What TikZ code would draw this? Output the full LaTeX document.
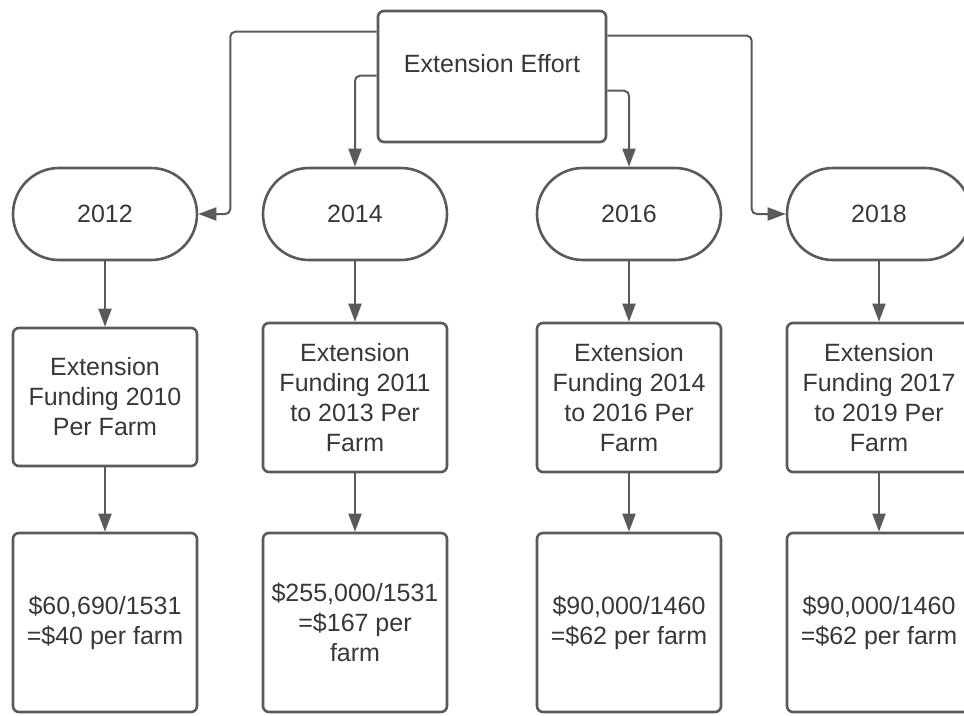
\documentclass[tikz,border=0pt]{standalone}
\usepackage{fontspec}
\setmainfont{Liberation Sans}
\usetikzlibrary{arrows.meta}
\definecolor{edge}{HTML}{5A5A5A}
\definecolor{ink}{HTML}{383838}
\begin{document}
\begin{tikzpicture}[x=1pt,y=-1pt,
  box/.style={draw=edge, line width=2.6pt, rounded corners=6pt, fill=white,
    text=ink, align=center, inner sep=0pt, minimum width=184pt,
    font=\fontsize{25}{30}\selectfont},
  pill/.style={box, rounded corners=46pt, minimum height=92pt},
  conn/.style={draw=edge, line width=2pt, rounded corners=5pt,
    -{Triangle[length=18pt,width=13pt]}}]
\useasboundingbox (0,0) rectangle (964,715);
\clip (0,0) rectangle (964,715);

% root; the extra text depth lifts the label above the box centre
\node[box, minimum width=228pt, minimum height=131pt, text depth=27pt] (top) at (492,76.5) {Extension Effort};

% years
\node[pill] (y2012) at (105,214) {2012};
\node[pill] (y2014) at (355,214) {2014};
\node[pill] (y2016) at (629,214) {2016};
\node[pill] (y2018) at (879,214) {2018};

% funding periods
\node[box, minimum height=138pt] (f2012) at (105,397) {Extension\\Funding 2010\\Per Farm};
\node[box, minimum height=149pt] (f2014) at (355,397.5) {Extension\\Funding 2011\\to 2013 Per\\Farm};
\node[box, minimum height=149pt] (f2016) at (629,397.5) {Extension\\Funding 2014\\to 2016 Per\\Farm};
\node[box, minimum height=149pt] (f2018) at (879,397.5) {Extension\\Funding 2017\\to 2019 Per\\Farm};

% per-farm amounts
\node[box, minimum height=179pt] (c2012) at (105,622.5) {\$60,690/1531\\=\$40 per farm};
\node[box, minimum height=179pt] (c2014) at (355,622.5) {\$255,000/1531\\=\$167 per\\farm};
\node[box, minimum height=179pt] (c2016) at (629,622.5) {\$90,000/1460\\=\$62 per farm};
\node[box, minimum height=179pt] (c2018) at (879,622.5) {\$90,000/1460\\=\$62 per farm};

% root to years
\draw[conn] ([yshift=-22pt]top.north west) -| ([xshift=32pt]y2012.east) -- (y2012.east);
\draw[conn] ([yshift=-66pt]top.north west) -| (y2014.north);
\draw[conn] ([yshift=-26pt]top.north east) -| ([xshift=-34pt]y2018.west) -- (y2018.west);
\draw[conn] ([yshift=-81pt]top.north east) -| (y2016.north);

% down each column
\foreach \c in {2012,2014,2016,2018}{
  \draw[conn] (y\c.south) -- (f\c.north);
  \draw[conn] (f\c.south) -- (c\c.north);
}
\end{tikzpicture}
\end{document}
